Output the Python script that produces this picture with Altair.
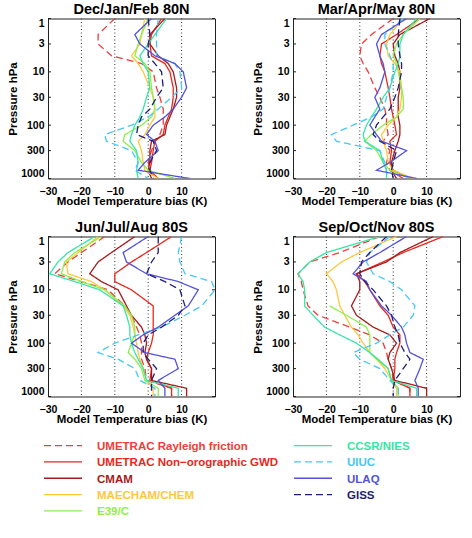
import altair as alt
import pandas as pd

# Pressure levels (hPa) at which every model profile is given
pressure_levels = [1, 2, 3, 5, 7, 10, 20, 30, 50, 70, 100, 150, 200, 300, 500, 700, 1000]

model_names = [
    "UMETRAC Rayleigh friction",
    "UMETRAC Non\u2212orographic GWD",
    "CMAM",
    "MAECHAM/CHEM",
    "E39/C",
    "CCSR/NIES",
    "UIUC",
    "ULAQ",
    "GISS",
]
model_colors = ["#f03c3c", "#e8281e", "#a81a1a", "#ffc83c", "#8eee4c",
                "#36e6a4", "#44c8f4", "#5252dc", "#1e1e78"]
model_dashes = [[7, 4], [1, 0], [1, 0], [1, 0], [1, 0], [1, 0], [7, 4], [1, 0], [7, 4]]
legend_col = [0, 0, 0, 0, 0, 1, 1, 1, 1]
legend_row = [0, 1, 2, 3, 4, 0, 1, 2, 3]

season_titles = ["Dec/Jan/Feb 80N", "Mar/Apr/May 80N", "Jun/Jul/Aug 80S", "Sep/Oct/Nov 80S"]

x_ticks = [-30, -20, -10, 0, 10]
x_grid = [-20, -10, 0, 10]
y_ticks = [1, 3, 10, 30, 100, 300, 1000]

# Temperature bias (K) per model, one value per pressure level
rayleigh_djf = [-10, -15, -15, -11, -2, 1.5, 2.5, 3.5, 4.5, 4.5, 4.5, 3.5, 2, 1, 0, 0.5, 2]
gwd_djf = [4, 1, 0.5, 1, 5, 6.5, 7.5, 7.5, 7, 6, 5, 4.5, 2, 1.5, 1, 0.5, 3]
cmam_djf = [5, 0.5, 0.5, 3, 6, 7.5, 8.5, 8.5, 7.5, 6.5, 5.5, 5, 1, 0.5, 0.5, 0, 1]
maecham_djf = [-1, -2, -2.5, -5, -3, -1.5, 0.5, 1.5, 2, 2, 0.5, -1, -3, -2, -1.5, -1, 3]
e39c_djf = [0, -2, -3, -4, -1, 0.5, 1, 1.5, 2, 1, -2, -7, -7.5, -4, -2, 0, 8]
ccsr_djf = [5.5, 2, 0, -2.5, -1.5, 0, 0.5, -0.5, -1.5, -2.5, -4, -5, -5.5, -3.5, -3, -3.5, -3]
uiuc_djf = [3, 2.5, 2.5, 2.5, 8, 9.5, 10, 7, 3, 0, -5, -13, -12.5, -5, -3, -4, 0]
ulaq_djf = [1, -4, -2.5, 2, 8, 10.5, 11.5, 10, 7.5, 5, 1.5, -0.5, 2, 3, -1, -3, 12.5]
giss_djf = [0, 0.5, 0, 0, 2, 4, 4.5, 2.5, 0.5, -2, -3, -3.5, 1.5, 2.5, 0.5, 0.5, 1.5]

rayleigh_mam = [0, -6.5, -9.5, -10, -9, -7.5, -5.5, -4, -2.5, -2, -2, -1.5, -3, -1, -2, -1, 3]
gwd_mam = [8, 1, -3.5, -4, -3.5, -2.5, -1.5, -1, -0.5, 0, 0.5, 1, -1, -0.5, -1, 0, 5]
cmam_mam = [11, 2, 0, 0.5, 1.5, 2, 2, 1.5, 1.5, 1.5, 2, 2, 1.5, 0.5, -0.5, -0.5, 1]
maecham_mam = [3, -1, -2, -1.5, 0.5, 2, 2.5, 2.5, 2, 1, -1.5, -3.5, -3, -2, -1.5, 0, 6]
e39c_mam = [8, 3, 1, 0, 1, 1.5, 2.5, 3, 3, 1, -3, -6.5, -8.5, -5, -3, -1, 5]
ccsr_mam = [7, 3, 2, 2, 1.5, 0.5, -1, -3, -5, -6.5, -8, -9, -8.5, -4, -3, -2, -2]
uiuc_mam = [3, -2.5, -2.5, -1, 0, 0, -1, -2, -3, -6.5, -12, -18.5, -17, -4, -2.5, -2, -2]
ulaq_mam = [4, -3.5, -5, -4, -3, -2.5, -4, -5.5, -4, -5.5, -7, -5, -3.5, 4, -1, -5, 7]
giss_mam = [2, 1.5, 1.5, 2, 2.5, 2.5, 1.5, 0.5, -1, -3, -5, -6, -4, 1, 0, -0.5, 0]

rayleigh_jja = [-13, -20, -24, -28, -20, -12, -7, -5, -3.5, -2.5, -2, -2, -2, -1, -0.5, 7, 7]
gwd_jja = [7, -0.5, -5, -10, -10, -5, 1.5, 1.5, 1.5, 1.5, 1, 0, -0.5, 1, 0.5, 7, 7]
cmam_jja = [-4, -11, -15, -17.5, -14, -9, -6.5, -5, -2, -1, -0.5, -1, -0.5, 1, 1, 11.5, 11.5]
maecham_jja = [-15, -21, -24.5, -24, -17, -13, -7.5, -5.5, -4.5, -4, -3.5, -3, -2.5, -1.5, -0.5, 1.5, 1.5]
e39c_jja = [-14, -22, -25, -26, -20, -13, -7, -5, -4, -4, -5, -6, -4, -2, -1, 3, 3]
ccsr_jja = [-16, -24, -27, -29.5, -22, -14.5, -7.5, -6.5, -5.5, -5.5, -5, -4, -3, -1.5, -0.5, 9, 9]
uiuc_jja = [10, 9, 9.5, 11, 19, 20, 16, 11, 4, -3, -10, -15, -9, -4, -2.5, 2, 2]
ulaq_jja = [0, -7.5, -6.5, -0.5, 9, 15, 12, 8, 3, -1.5, -5, -1, 8, 9, 3, 5, 5]
giss_jja = [3, 3, 1, -0.5, 5, 9.5, 11, 9, 4, 0, -1.5, -1.5, 0, 2.5, 1, 1, 1]

rayleigh_son = [-4, -16, -25, -28.5, -27.5, -27, -25.5, -22.5, -13, -7, -3, -2, -1.5, -0.5, 0, 5, 5]
gwd_son = [15, 3, -3, -11, -8.5, -7, -4, -1.5, 0, 2, 2, 1, 0.5, 0.5, 0, 5, 5]
cmam_son = [12, 2, -2, -11, -10, -10, -12.5, -11, -6, -1, 1, -1, -1.5, -0.5, 0.5, 10, 10]
maecham_son = [1, -10, -15.5, -20, -18, -17, -16, -14.5, -12.5, -10.5, -9, -7, -5, -2.5, -0.5, 1, 1]
e39c_son = [None, None, None, None, None, None, -19, -14, -8, -7, -7, -7, -5, -1.5, -0.5, 1.5, 1.5]
ccsr_son = [-4, -20, -25, -28.5, -27, -26.5, -26.5, -24, -20.5, -16, -11, -7, -4.5, -1.5, -0.5, 7, 7]
uiuc_son = [-1, -7, -8, -6, -1, 2.5, 6.5, 6, 3, -1, -5, -12, -10, -4, -1, 1.5, 1.5]
ulaq_son = [4, -4, -9, -12, -8, -7, -3.5, -0.5, 2.5, 3.5, 4, 5, 9, 8, 6.5, 7.5, 7.5]
giss_son = [-2, -7, -9.5, -10, -8.5, -6, -2, -0.5, 0.5, 1.5, 2, 3.5, 5, 3, 0.5, 0, 0]

season_profiles = [
    [rayleigh_djf, gwd_djf, cmam_djf, maecham_djf, e39c_djf, ccsr_djf, uiuc_djf, ulaq_djf, giss_djf],
    [rayleigh_mam, gwd_mam, cmam_mam, maecham_mam, e39c_mam, ccsr_mam, uiuc_mam, ulaq_mam, giss_mam],
    [rayleigh_jja, gwd_jja, cmam_jja, maecham_jja, e39c_jja, ccsr_jja, uiuc_jja, ulaq_jja, giss_jja],
    [rayleigh_son, gwd_son, cmam_son, maecham_son, e39c_son, ccsr_son, uiuc_son, ulaq_son, giss_son],
]

records = []
for season, profiles in zip(season_titles, season_profiles):
    for name, values in zip(model_names, profiles):
        for level, (p, t) in enumerate(zip(pressure_levels, values)):
            if t is not None:
                records.append({"season": season, "model": name, "p": p, "bias": t, "level": level})
profiles_df = pd.DataFrame(records)

FONT = "Liberation Sans"
W, H = 167, 160

color_scale = alt.Scale(domain=model_names, range=model_colors)
dash_scale = alt.Scale(domain=model_names, range=model_dashes)
x_scale = alt.Scale(domain=[-30, 20], nice=False, zero=False)
y_scale = alt.Scale(type="log", domain=[1, 1000], reverse=True, nice=False)

x_axis = alt.Axis(
    values=x_ticks, title="Model Temperature bias (K)", grid=False, domain=False,
    ticks=False, tickSize=0, labelPadding=7.5, titlePadding=-1, labelFlush=False,
    labelOverlap=False, labelFont=FONT, labelFontSize=10.5, labelFontWeight="bold",
    labelColor="black", titleFont=FONT, titleFontSize=11.5, titleFontWeight="bold",
    titleColor="black",
)
y_axis = alt.Axis(
    values=y_ticks, format="d", title="Pressure hPa", grid=False, domain=False,
    ticks=False, tickSize=0, labelPadding=4, titlePadding=2, labelFlush=True,
    labelOverlap=False, labelFont=FONT, labelFontSize=10.5, labelFontWeight="bold",
    labelColor="black", titleFont=FONT, titleFontSize=11.5, titleFontWeight="bold",
    titleColor="black",
)


def panel(season):
    grid = alt.Chart(pd.DataFrame({"g": x_grid})).mark_rule(
        strokeDash=[1, 2.5], color="#333333", strokeWidth=1
    ).encode(x=alt.X("g:Q", scale=x_scale, axis=x_axis))

    lines = alt.Chart(profiles_df).transform_filter(
        alt.datum.season == season
    ).mark_line(strokeWidth=1.3, clip=True).encode(
        x=alt.X("bias:Q", scale=x_scale, axis=x_axis),
        y=alt.Y("p:Q", scale=y_scale, axis=y_axis),
        color=alt.Color("model:N", scale=color_scale, legend=None),
        strokeDash=alt.StrokeDash("model:N", scale=dash_scale, legend=None),
        order=alt.Order("level:Q"),
    )

    tick_df = pd.DataFrame({"p": y_ticks})
    left_ticks = alt.Chart(tick_df).mark_rule(color="#222222").encode(
        y=alt.Y("p:Q", scale=y_scale, axis=y_axis), x=alt.value(0), x2=alt.value(3)
    )
    right_ticks = alt.Chart(tick_df).mark_rule(color="#222222").encode(
        y=alt.Y("p:Q", scale=y_scale, axis=y_axis), x=alt.value(W - 3), x2=alt.value(W)
    )

    return alt.layer(grid, lines, left_ticks, right_ticks).properties(
        width=W, height=H,
        title=alt.TitleParams(season, font=FONT, fontSize=14.5, fontWeight="bold",
                              color="black", offset=1, anchor="middle"),
    )


# Custom two-column key below the panels; its origin lines up with the left plot frame
LW, LH = 412, 81.5
legend_df = pd.DataFrame({"model": model_names, "col": legend_col, "row": legend_row})
legend_base = alt.Chart(legend_df).transform_calculate(
    x0="-4 + 250 * datum.col", x1="34 + 250 * datum.col", tx="49 + 250 * datum.col"
)
lx = alt.Scale(domain=[0, LW], nice=False, zero=False)
ly = alt.Scale(domain=[-0.5, 4.5], nice=False, zero=False, reverse=True)
legend_lines = legend_base.mark_rule(strokeWidth=1.3).encode(
    x=alt.X("x0:Q", scale=lx, axis=None), x2="x1:Q",
    y=alt.Y("row:Q", scale=ly, axis=None),
    color=alt.Color("model:N", scale=color_scale, legend=None),
    strokeDash=alt.StrokeDash("model:N", scale=dash_scale, legend=None),
)
legend_text = legend_base.mark_text(
    align="left", baseline="middle", dy=1.5, font=FONT, fontSize=11.5, fontWeight="bold"
).encode(
    x=alt.X("tx:Q", scale=lx, axis=None),
    y=alt.Y("row:Q", scale=ly, axis=None),
    text="model:N",
    color=alt.Color("model:N", scale=color_scale, legend=None),
)
legend = alt.layer(legend_lines, legend_text).properties(
    width=LW, height=LH, view=alt.ViewBackground(stroke="transparent")
)

top_row = alt.hconcat(panel(season_titles[0]), panel(season_titles[1]), spacing=36)
bottom_row = alt.hconcat(panel(season_titles[2]), panel(season_titles[3]), spacing=36)
panels = alt.vconcat(top_row, bottom_row, spacing=11)

chart = alt.vconcat(panels, legend, spacing=11).properties(
    padding={"left": 7, "top": 0.5, "right": 5, "bottom": 5}
).configure_view(stroke="#222222", strokeWidth=1)

chart.save("out.html", embed_options={"renderer": "svg", "actions": False})
